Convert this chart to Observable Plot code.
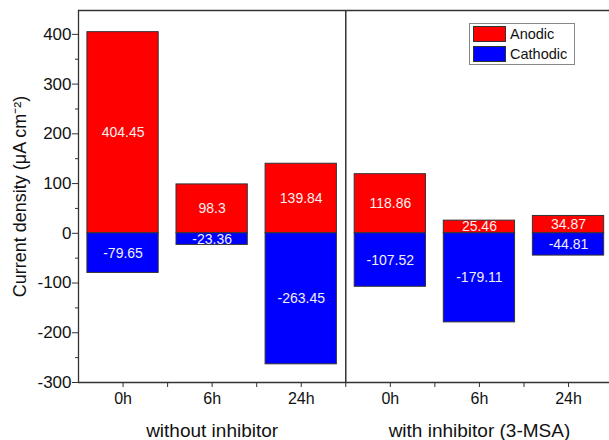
<!DOCTYPE html>
<html>
<head>
<meta charset="utf-8">
<script src="https://cdn.jsdelivr.net/npm/d3@7"></script>
<script src="https://cdn.jsdelivr.net/npm/@observablehq/plot@0.6"></script>
<style>
  body { margin: 0; background: #fff; font-family: "Liberation Sans", Arial, sans-serif; }
  #wrap { position: relative; width: 609px; height: 440px; }
  #legend { position: absolute; left: 469px; top: 23px; width: 104px; height: 40px; border: 1px solid #888; background: #fff; }
  .row { display: flex; align-items: center; height: 20px; }
  .sw { width: 33px; height: 16px; border: 1px solid #333; margin: 1px 4px 1px 3px; box-sizing: border-box; }
  .lab { font-size: 14.5px; color: #111; }
</style>
</head>
<body>
<div id="wrap"></div>
<script>
const times = ["0h", "6h", "24h", "0h", "6h", "24h"];
const groups = ["without inhibitor", "with inhibitor (3-MSA)"];
const groupCenter = [1, 4];
const anodic = [404.45, 98.3, 139.84, 118.86, 25.46, 34.87];
const cathodic = [-79.65, -23.36, -263.45, -107.52, -179.11, -44.81];
const seriesNames = ["Anodic", "Cathodic"];
const seriesColors = ["#ff0000", "#0000ff"];
const yTicks = [-300, -200, -100, 0, 100, 200, 300, 400];
const yMinorTicks = [-250, -150, -50, 50, 150, 250, 350];

const xDomain = [-0.5, 5.46];
const yDomain = [-300, 448];
const divider = 2.5;

const rows = times.map((t, i) => ({i, time: t, anodic: anodic[i], cathodic: cathodic[i]}));
const halfSteps = d3.range(-0.5, 5.5, 0.5).filter(v => v > xDomain[0] && !Number.isInteger(v));
const gl = groups.map((g, k) => ({g, x: groupCenter[k]}));
const halfW = 0.4;

const chart = Plot.plot({
  width: 609,
  height: 440,
  marginLeft: 78,
  marginRight: 0,
  marginTop: 10,
  marginBottom: 58,
  style: {fontFamily: "'Liberation Sans', Arial, sans-serif", fontSize: "14px", background: "#fff", color: "#222"},
  x: {domain: xDomain},
  y: {domain: yDomain},
  marks: [
    Plot.rect(rows, {x1: d => d.i - halfW, x2: d => d.i + halfW, y1: 0, y2: "anodic", fill: seriesColors[0], stroke: "#333", strokeWidth: 1}),
    Plot.rect(rows, {x1: d => d.i - halfW, x2: d => d.i + halfW, y1: 0, y2: "cathodic", fill: seriesColors[1], stroke: "#333", strokeWidth: 1}),
    Plot.text(rows, {x: "i", y: d => d.anodic / 2, text: d => String(d.anodic), fill: "#f6f0f0", fontSize: 14}),
    Plot.text(rows, {x: "i", y: d => d.cathodic / 2, text: d => String(d.cathodic), fill: "#f0f0f6", fontSize: 14}),
    Plot.ruleX([divider], {stroke: "#333", strokeWidth: 1.5}),
    Plot.ruleX([xDomain[0]], {stroke: "#333", strokeWidth: 1.3}),
    Plot.ruleY([yDomain[0]], {stroke: "#333", strokeWidth: 1.3}),
    Plot.ruleY([yDomain[1]], {stroke: "#333", strokeWidth: 1.3}),
    Plot.axisY({ticks: yTicks, tickSize: 6, tickPadding: 1, tickFormat: d => String(d), label: null, fontSize: 17, stroke: "#333", fill: "#111"}),
    Plot.axisY({ticks: yMinorTicks, tickSize: 3, tickFormat: () => "", label: null, stroke: "#333"}),
    Plot.axisX({ticks: d3.range(times.length), tickSize: 5, tickPadding: 5, tickFormat: i => times[i], label: null, fontSize: 16, stroke: "#333", fill: "#111"}),
    Plot.axisX({ticks: halfSteps, tickSize: 5, tickFormat: () => "", label: null, stroke: "#333"}),
    Plot.text(gl, {x: "x", y: yDomain[0], text: "g", dy: 48, fontSize: 19, lineAnchor: "middle", fill: "#111"}),
    Plot.text(["Current density (μA cm⁻²)"], {frameAnchor: "left", textAnchor: "middle", lineAnchor: "middle", rotate: -90, dx: -58, fontSize: 18, fill: "#111"})
  ]
});
const wrap = document.getElementById("wrap");
wrap.appendChild(chart);
const legend = document.createElement("div");
legend.id = "legend";
seriesNames.forEach((n, k) => {
  const r = document.createElement("div");
  r.className = "row";
  const s = document.createElement("div");
  s.className = "sw";
  s.style.background = seriesColors[k];
  const l = document.createElement("span");
  l.className = "lab";
  l.textContent = n;
  r.appendChild(s); r.appendChild(l);
  legend.appendChild(r);
});
wrap.appendChild(legend);
</script>
</body>
</html>
